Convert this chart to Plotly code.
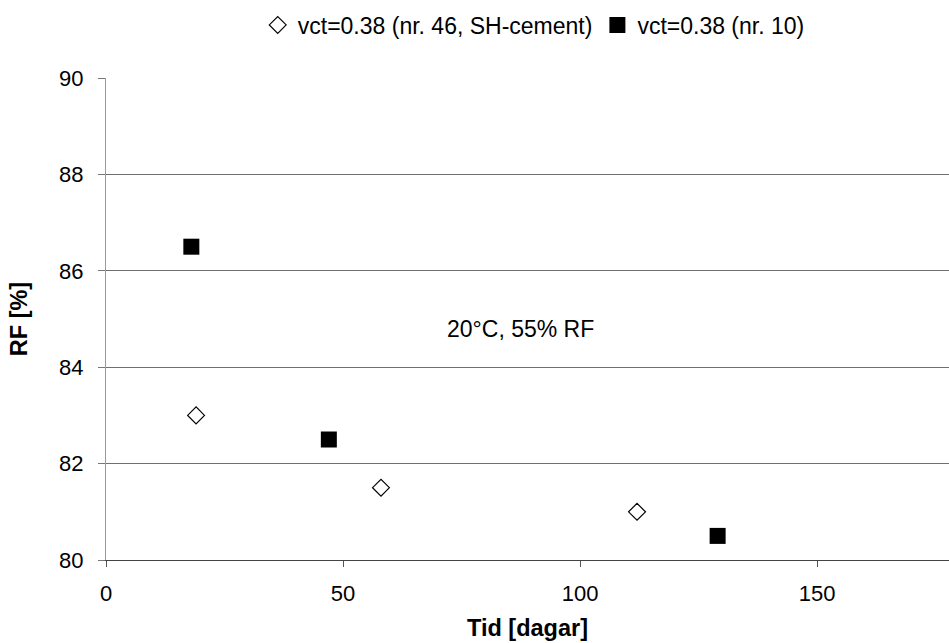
import plotly.graph_objects as go

# Data
sh_days = [19, 58, 112]
sh_rf = [83.0, 81.5, 81.0]
nr10_days = [18, 47, 129]
nr10_rf = [86.5, 82.5, 80.5]
name_sh = "vct=0.38 (nr. 46, SH-cement)"
name_nr10 = "vct=0.38 (nr. 10)"
x_title = "Tid [dagar]"
y_title = "RF [%]"
note_text = "20°C, 55% RF"
x_ticks = [0, 50, 100, 150]
y_ticks = [80, 82, 84, 86, 88, 90]

FONT = "Liberation Sans, Arial, sans-serif"

fig = go.Figure()
fig.add_trace(go.Scatter(
    x=sh_days, y=sh_rf, mode="markers", name=name_sh,
    marker=dict(symbol="diamond", size=13, color="white",
                line=dict(color="black", width=1.2)),
))
fig.add_trace(go.Scatter(
    x=nr10_days, y=nr10_rf, mode="markers", name=name_nr10,
    marker=dict(symbol="square", size=16, color="black",
                line=dict(color="black", width=0)),
))

fig.add_annotation(x=87.5, y=84.8, text=note_text, showarrow=False,
                   font=dict(family=FONT, size=23, color="black"))

fig.update_layout(
    width=949, height=643,
    margin=dict(l=106, r=0, t=78, b=83, autoexpand=False),
    paper_bgcolor="white", plot_bgcolor="white",
    font=dict(family=FONT, color="black"),
    showlegend=True,
    legend=dict(orientation="h", x=0.180, y=1.11, xanchor="left", yanchor="middle",
                font=dict(family=FONT, size=23, color="black"),
                itemwidth=30, tracegroupgap=0, bgcolor="rgba(0,0,0,0)"),
    xaxis=dict(
        range=[0, 177.8], tickvals=x_ticks, showgrid=False, zeroline=False,
        showline=True, linecolor="#444444", linewidth=1,
        ticks="outside", ticklen=6, tickcolor="#555555",
        ticklabelstandoff=8,
        tickfont=dict(family=FONT, size=22, color="black"),
        title=dict(text="<b>" + x_title + "</b>", standoff=14,
                   font=dict(family=FONT, size=23.5, color="black")),
    ),
    yaxis=dict(
        range=[80, 90], tickvals=y_ticks, showgrid=True, gridcolor="#707070",
        gridwidth=1, zeroline=False,
        showline=True, linecolor="#999999", linewidth=1,
        ticks="outside", ticklen=7, tickcolor="#777777",
        ticklabelstandoff=10,
        tickfont=dict(family=FONT, size=22, color="black"),
        title=dict(text="<b>" + y_title + "</b>", standoff=24,
                   font=dict(family=FONT, size=23.5, color="black")),
    ),
)

fig.write_html(
    "out.html",
    config={"displayModeBar": False},
    post_script="document.body.style.margin='0';document.body.style.overflow='hidden';",
)
